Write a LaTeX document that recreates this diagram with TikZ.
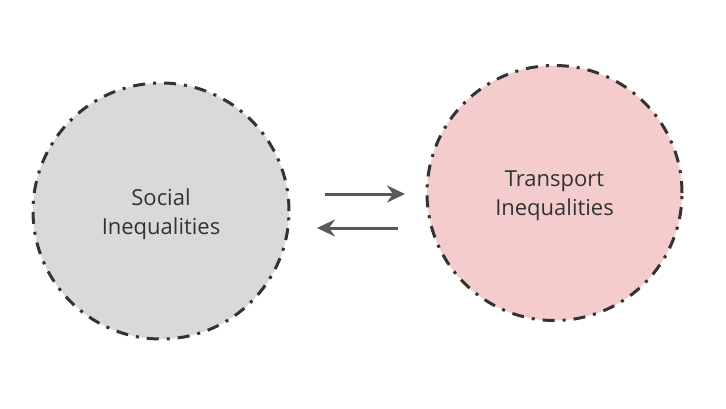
\documentclass[tikz,border=0pt]{standalone}
\usepackage{fontspec}
\setmainfont{Open Sans}
\usetikzlibrary{arrows.meta}
\definecolor{grayfill}{HTML}{D9D9D9}
\definecolor{pinkfill}{HTML}{F4CCCC}
\definecolor{rim}{HTML}{333333}
\definecolor{arrowc}{HTML}{595959}
\definecolor{txt}{HTML}{333333}
\tikzset{
  bubble/.style={circle, draw=rim, line width=3pt,
    dash pattern=on 12pt off 8pt on 3pt off 8pt, inner sep=0pt},
  bubbletext/.style={text=txt, font=\fontsize{22}{29}\selectfont,
    align=center, yshift=-3pt},
  relarrow/.style={draw=arrowc, line width=3pt,
    -{Stealth[length=18pt,width=17pt,inset=6pt]}}
}
\begin{document}
\begin{tikzpicture}[x=1pt,y=-1pt]
\useasboundingbox (0,0) rectangle (726,408);
\node[bubble, fill=grayfill, minimum size=256pt,
  label={[bubbletext]center:Social\\Inequalities}] (soc) at (161,211) {};
\node[bubble, fill=pinkfill, minimum size=255pt,
  label={[bubbletext]center:Transport\\Inequalities}] (tra) at (554.5,193) {};
\coordinate (a1) at (325,194);
\coordinate (a2) at (405,194);
\coordinate (b1) at (398,228);
\coordinate (b2) at (317,228);
\draw[relarrow] (a1) -- (a2);
\draw[relarrow] (b1) -- (b2);
\end{tikzpicture}
\end{document}
